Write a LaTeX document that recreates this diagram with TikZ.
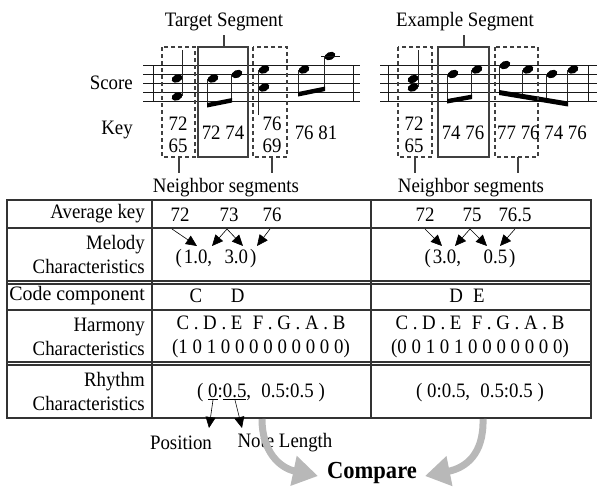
\documentclass[tikz,border=0pt]{standalone}
\usepackage{fontspec}
\setmainfont{Liberation Serif}[FakeStretch=0.92]
\usetikzlibrary{arrows.meta}
\newcommand\nhead[2]{\fill[rotate around={25:(#1,#2)}] (#1,#2) ellipse [x radius=5.6, y radius=3.9];}
\begin{document}
\begin{tikzpicture}[x=1pt,y=-1pt,
  txt/.style={font=\fontsize{20.5}{24}\selectfont, inner sep=0pt, text=black},
  lbl/.style={txt, align=right, anchor=east},
  gridline/.style={draw=black!80, line width=1.1pt},
  segbox/.style={draw=black!75, line width=1.1pt},
  nbbox/.style={segbox, dash pattern=on 4pt off 3pt},
  staffline/.style={draw=black!90, line width=1pt},
  stemline/.style={draw=black!85, line width=1pt},
  melarrow/.style={draw=black, line width=0.6pt, -{Triangle[length=11pt,width=10pt]}},
  bigarrow/.style={draw=black!28, line width=7pt, -{Triangle[length=25pt,width=29pt]}},
]
\useasboundingbox (0,0) rectangle (597,488);

% ---------- left score ----------
\foreach \yy in {65,74,83,92,101} \draw[staffline] (143,\yy) -- (360,\yy);
\draw[staffline] (153,65) -- (153,101);
\draw[staffline] (353,65) -- (353,101);
\nhead{177}{78.5} \nhead{177}{96.5}
\draw[stemline] (182.3,96) -- (182.3,50);
\nhead{213}{78.5} \nhead{237}{74}
\draw[stemline] (207.7,78.5) -- (207.7,106);
\draw[stemline] (231.7,74) -- (231.7,101);
\fill (207.2,103) -- (232.2,98) -- (232.2,102.5) -- (207.2,107.5) -- cycle;
\nhead{264}{69.5} \nhead{264}{87.5}
\draw[stemline] (258.7,69.5) -- (258.7,115);
\nhead{304}{69.5} \nhead{330}{56}
\draw[staffline] (321,56) -- (340,56);
\draw[stemline] (298.7,69.5) -- (298.7,95);
\draw[stemline] (324.7,56) -- (324.7,90);
\fill (298.2,92) -- (325.2,86.5) -- (325.2,91) -- (298.2,96.5) -- cycle;

% ---------- right score ----------
\foreach \yy in {65,74,83,92,101} \draw[staffline] (380,\yy) -- (597,\yy);
\draw[staffline] (388,65) -- (388,101);
\draw[staffline] (588,65) -- (588,101);
\nhead{413}{79} \nhead{413}{87.5}
\draw[stemline] (418.3,87) -- (418.3,50);
\nhead{453}{74} \nhead{477}{69.5}
\draw[stemline] (447.7,74) -- (447.7,103);
\draw[stemline] (471.7,69.5) -- (471.7,98.5);
\fill (447.2,99) -- (472.2,94.5) -- (472.2,99) -- (447.2,103.5) -- cycle;
\nhead{505}{65} \nhead{528}{69.5} \nhead{552}{74} \nhead{573}{69.5}
\draw[stemline] (499.7,65) -- (499.7,94);
\draw[stemline] (522.7,69.5) -- (522.7,97);
\draw[stemline] (546.7,74) -- (546.7,101);
\draw[stemline] (567.7,69.5) -- (567.7,104);
\fill (499.2,90) -- (568.2,101.5) -- (568.2,106.5) -- (499.2,95) -- cycle;

% ---------- segment boxes ----------
\draw[nbbox] (162,47) rectangle (195,157);
\draw[segbox] (198,47) rectangle (248,157);
\draw[nbbox] (253,47) rectangle (287,157);
\draw[nbbox] (398,47) rectangle (432,157);
\draw[segbox] (438,47) rectangle (489,157);
\draw[nbbox] (495,47) rectangle (538,157);

\node[txt] (tseg) at (224,22) {Target Segment};
\node[txt] (eseg) at (465,22) {Example Segment};
\node[txt] (nseg1) at (226,188) {Neighbor segments};
\node[txt] (nseg2) at (471,188) {Neighbor segments};
\coordinate (tbox) at (224,47);
\coordinate (ebox) at (464,47);
\coordinate (nb1) at (179,157);
\coordinate (nb2) at (272,157);
\coordinate (nb3) at (415,157);
\coordinate (nb4) at (518,157);
\draw[segbox] (tbox) -- (tbox |- 0,35);
\draw[segbox] (ebox) -- (ebox |- 0,35);
\draw[segbox] (nb1) -- (nb1 |- 0,173);
\draw[segbox] (nb2) -- (nb2 |- 0,173);
\draw[segbox] (nb3) -- (nb3 |- 0,173);
\draw[segbox] (nb4) -- (nb4 |- 0,173);

\node[txt, anchor=east] (score) at (133,83) {Score};
\node[txt, anchor=east] (key) at (133,130) {Key};
\node[txt] (k1a) at (178,124) {72};
\node[txt] (k1b) at (178,146) {65};
\node[txt] (k2) at (223,133) {72 74};
\node[txt] (k3a) at (272,124) {76};
\node[txt] (k3b) at (272,146) {69};
\node[txt] (k4) at (316,133) {76 81};
\node[txt] (k5a) at (414,124) {72};
\node[txt] (k5b) at (414,146) {65};
\node[txt] (k6) at (463,133) {74 76};
\node[txt] (k7) at (542,133) {77 76 74 76};

% ---------- table ----------
\draw[gridline] (7,200) rectangle (591,418);
\foreach \yy in {228,281,284,310,362,365} \draw[gridline] (7,\yy) -- (591,\yy);
\draw[gridline] (152,200) -- (152,418);
\draw[gridline] (371,200) -- (371,418);

\node[lbl] (avglbl) at (145,214) {Average key};
\node[lbl] (mellbl) at (145,254) {Melody\\Characteristics};
\node[lbl] (codelbl) at (145,296) {\scalebox{1.055}[1]{Code component}};
\node[lbl] (harlbl) at (145,337) {Harmony\\Characteristics};
\node[lbl] (rhylbl) at (145,391) {Rhythm\\Characteristics};

% column 1
\node[txt] (a72) at (180,215) {72};
\node[txt] (a73) at (229,215) {73};
\node[txt] (a76) at (272,215) {76};
\node[txt] (mel1) at (216,259) {(\kern2pt 1.0,\hspace{0.6em}3.0\kern2pt)};
\coordinate (m1s) at (172,229); \coordinate (m1e) at (197,246);
\coordinate (m2s) at (227,229); \coordinate (m2e) at (212,246);
\coordinate (m3e) at (243,246);
\coordinate (m4s) at (270,229); \coordinate (m4e) at (257,246);
\draw[melarrow] (m1s) -- (m1e);
\draw[melarrow] (m2s) -- (m2e);
\draw[melarrow] (m2s) -- (m3e);
\draw[melarrow] (m4s) -- (m4e);
\node[txt] (code1) at (217,296) {C\hspace{1.4em}D};
\node[txt, align=center] (har1) at (261,337) {C . D . E\enspace F . G . A . B\\(1 0 1 0 0 0 0 0 0 0 0 0)};
\node[txt] (rhy1) at (261,393) {( \underline{0}:\underline{0.5},\enspace 0.5:0.5 )};

% column 2
\node[txt] (b72) at (425,215) {72};
\node[txt] (b75) at (472,215) {75};
\node[txt] (b765) at (515,215) {76.5};
\node[txt] (mel2) at (470,259) {(\kern2pt 3.0,\hspace{1.1em}0.5\kern2pt)};
\coordinate (n1s) at (425,229); \coordinate (n1e) at (442,246);
\coordinate (n2s) at (470,229); \coordinate (n2e) at (455,246);
\coordinate (n3e) at (487,246);
\coordinate (n4s) at (515,229); \coordinate (n4e) at (500,246);
\draw[melarrow] (n1s) -- (n1e);
\draw[melarrow] (n2s) -- (n2e);
\draw[melarrow] (n2s) -- (n3e);
\draw[melarrow] (n4s) -- (n4e);
\node[txt] (code2) at (467,296) {D\hspace{0.5em}E};
\node[txt, align=center] (har2) at (480,337) {C . D . E\enspace F . G . A . B\\(0 0 1 0 1 0 0 0 0 0 0 0)};
\node[txt] (rhy2) at (480,393) {( 0:0.5,\enspace 0.5:0.5 )};

% ---------- bottom ----------
\node[txt] (pos) at (181,443) {Position};
\node[txt] (nlen) at (285,443) {Note Length};
\coordinate (p1s) at (213,400); \coordinate (p1e) at (209,428);
\coordinate (p2s) at (235,400); \coordinate (p2e) at (242,428);
\draw[melarrow] (p1s) -- (p1e);
\draw[melarrow] (p2s) -- (p2e);

\node[font=\bfseries\fontsize{24.5}{28}\selectfont, inner sep=0pt] (cmp) at (372,473) {Compare};
\coordinate (g1s) at (262,419); \coordinate (g1e) at (318,476);
\coordinate (g2s) at (483,419); \coordinate (g2e) at (425,476);
\draw[bigarrow] (g1s) .. controls (262,452) and (280,468) .. (g1e);
\draw[bigarrow] (g2s) .. controls (484,455) and (465,468) .. (g2e);
\end{tikzpicture}
\end{document}
